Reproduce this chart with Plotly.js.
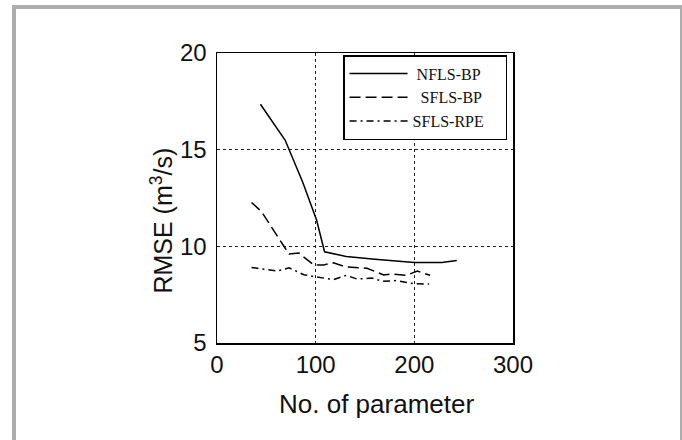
<!DOCTYPE html>
<html>
<head>
<meta charset="utf-8">
<script src="https://cdn.plot.ly/plotly-3.0.1.min.js"></script>
<style>
  html, body { margin: 0; padding: 0; background: #fff; }
  #wrap { position: relative; width: 682px; height: 440px; }
  #chart { position: absolute; left: 0; top: 0; width: 682px; height: 440px; }
  #frame { position: absolute; left: 12px; top: 5px; width: 664px; height: 440px;
           border-left: 4px solid #adadad; border-top: 4px solid #adadad; border-right: 3px solid #adadad;
           pointer-events: none; }
</style>
</head>
<body>
<div id="wrap">
  <div id="chart"></div>
  <div id="frame"></div>
</div>
<script>
// Series names
const seriesNames = ["NFLS-BP", "SFLS-BP", "SFLS-RPE"];

// NFLS-BP (solid)
const nflsBpX = [44, 69, 87, 101, 109, 131, 160, 200, 228, 243];
const nflsBpY = [17.35, 15.5, 13.3, 11.35, 9.72, 9.47, 9.33, 9.17, 9.17, 9.27];

// SFLS-BP (dashed)
const sflsBpX = [35, 45, 73, 83, 98, 108, 118, 131, 152, 169, 177, 192, 203, 216];
const sflsBpY = [12.27, 11.8, 9.6, 9.65, 9.04, 9.04, 9.15, 8.93, 8.87, 8.52, 8.57, 8.5, 8.72, 8.5];

// SFLS-RPE (dash-dot)
const sflsRpeX = [35, 61, 73, 88, 99, 118, 131, 142, 157, 168, 182, 200, 215];
const sflsRpeY = [8.91, 8.72, 8.89, 8.53, 8.43, 8.28, 8.5, 8.31, 8.36, 8.19, 8.23, 8.06, 8.05];

// Axis ticks
const xTicks = [0, 100, 200, 300];
const yTicks = [5, 10, 15, 20];

const xTitle = "No. of parameter";
const yTitle = "RMSE (m<sup>3</sup>/s)";

// legend labels: right-aligned look via leading/trailing non-breaking spaces
const NB = "\u00a0";
const legendLead = [1, 2, 0];
const legendTrail = [4, 4, 4];
const legendNames = seriesNames.map((n, i) => NB.repeat(legendLead[i]) + n + NB.repeat(legendTrail[i]));

const traces = [
  { x: nflsBpX, y: nflsBpY, name: legendNames[0], mode: "lines",
    line: { color: "#000", width: 1.5, dash: "solid" } },
  { x: sflsBpX, y: sflsBpY, name: legendNames[1], mode: "lines",
    line: { color: "#000", width: 1.5, dash: "11px,5px" } },
  { x: sflsRpeX, y: sflsRpeY, name: legendNames[2], mode: "lines",
    line: { color: "#000", width: 1.5, dash: "7px,4px,2px,4px" } }
];

const axisCommon = {
  showline: true, mirror: true, linecolor: "#000", linewidth: 1.5,
  showgrid: true, gridcolor: "#222", gridwidth: 1, griddash: "dot",
  zeroline: false, ticks: "", tickmode: "array",
  tickfont: { family: "Liberation Sans, Arial, sans-serif", size: 24, color: "#111" }
};

const layout = {
  width: 682, height: 440,
  margin: { l: 217, r: 169, t: 53, b: 97 },
  paper_bgcolor: "#fff", plot_bgcolor: "#fff",
  showlegend: true,
  legend: {
    x: 0.98, y: 0.993, xanchor: "right", yanchor: "top",
    bgcolor: "#fff", bordercolor: "#000", borderwidth: 1.5,
    font: { family: "Liberation Serif, Times New Roman, serif", size: 16, color: "#111" },
    itemwidth: 58, tracegroupgap: 0
  },
  xaxis: Object.assign({}, axisCommon, {
    range: [0, 300], tickvals: xTicks, ticktext: xTicks.map(String),
    ticklabelstandoff: 0
  }),
  yaxis: Object.assign({}, axisCommon, {
    range: [5, 20], tickvals: yTicks, ticktext: yTicks.map(String),
    ticklabelstandoff: 4
  }),
  annotations: [
    { text: xTitle, xref: "paper", yref: "paper", x: 0.54, y: -0.209,
      xanchor: "center", yanchor: "middle", showarrow: false,
      font: { family: "Liberation Sans, Arial, sans-serif", size: 26, color: "#111" } },
    { text: yTitle, xref: "paper", yref: "paper", x: -0.185, y: 0.423, textangle: -90,
      xanchor: "center", yanchor: "middle", showarrow: false,
      font: { family: "Liberation Sans, Arial, sans-serif", size: 25, color: "#111" } }
  ]
};

Plotly.newPlot("chart", traces, layout, { staticPlot: true, displayModeBar: false });
</script>
</body>
</html>
